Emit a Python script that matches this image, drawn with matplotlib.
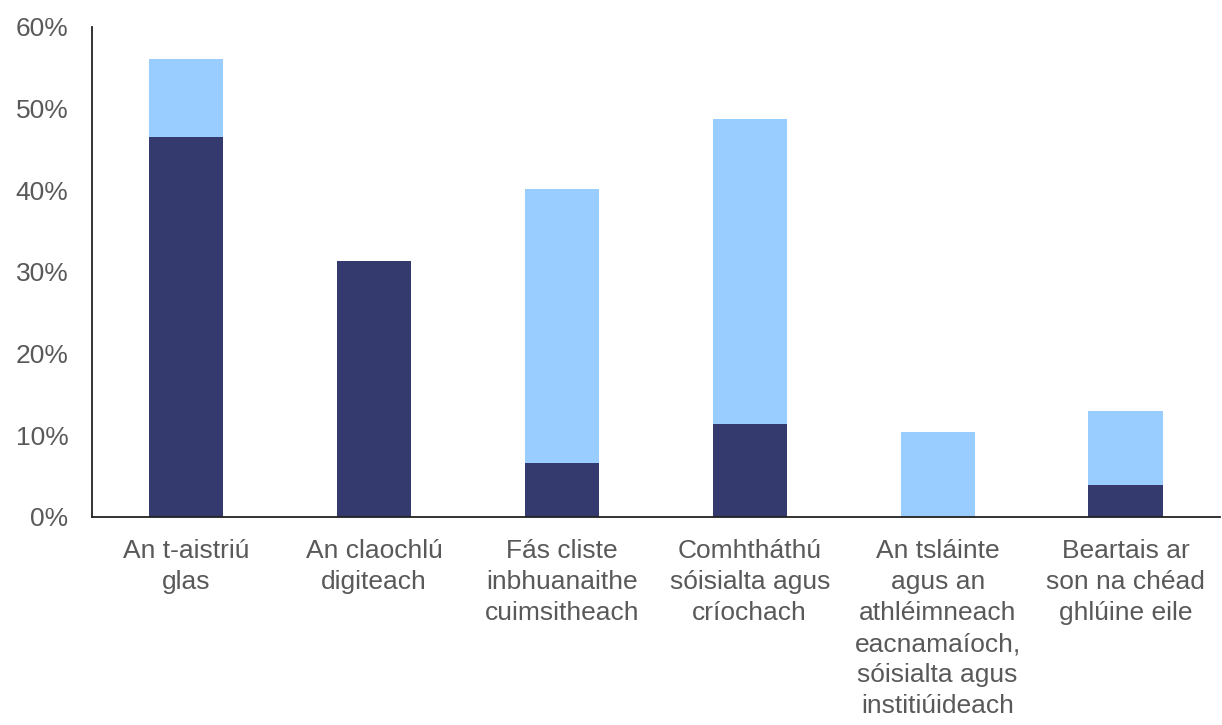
import matplotlib
matplotlib.use("Agg")
from matplotlib import pyplot as plt
import numpy as np

# categorias e valores (percentagens)
categorias = [
    "An t-aistriú\nglas",
    "An claochlú\ndigiteach",
    "Fás cliste\ninbhuanaithe\ncuimsitheach",
    "Comhtháthú\nsóisialta agus\ncríochach",
    "An tsláinte\nagus an\nathléimneach\neacnamaíoch,\nsóisialta agus\ninstitiúideach",
    "Beartais ar\nson na chéad\nghlúine eile",
]
serie_escura = [46.5, 31.4, 6.6, 11.4, 0.0, 3.9]
serie_clara = [9.6, 0.0, 33.5, 37.3, 10.4, 9.1]
ticks_y = [0, 10, 20, 30, 40, 50, 60]
rotulos_y = ["0%", "10%", "20%", "30%", "40%", "50%", "60%"]

plt.rcParams['font.family'] = ['Liberation Sans', 'DejaVu Sans']

fig = plt.figure(figsize=(12.22, 7.25), dpi=100)
ax = fig.add_axes([0.0753, 0.2869, 0.9227, 0.6759])

x = np.arange(len(categorias))
ax.bar(x, serie_escura, width=0.395, color='#343a6e')
ax.bar(x, serie_clara, width=0.395, bottom=serie_escura, color='#99ccff')

ax.set_xlim(-0.5, len(categorias) - 0.5)
ax.set_ylim(0, 60)
ax.set_yticks(ticks_y)
ax.set_yticklabels(rotulos_y, fontsize=19.5)
ax.set_xticks(x)
ax.set_xticklabels(categorias, linespacing=1.37)

for s in ['top', 'right']:
    ax.spines[s].set_visible(False)
for s in ['left', 'bottom']:
    ax.spines[s].set_linewidth(1.3)
    ax.spines[s].set_color('#222222')

ax.tick_params(axis='both', length=0, labelsize=19, labelcolor='#595959')
ax.tick_params(axis='y', pad=17)
ax.tick_params(axis='x', pad=16)

plt.savefig('out.png', dpi=100)
